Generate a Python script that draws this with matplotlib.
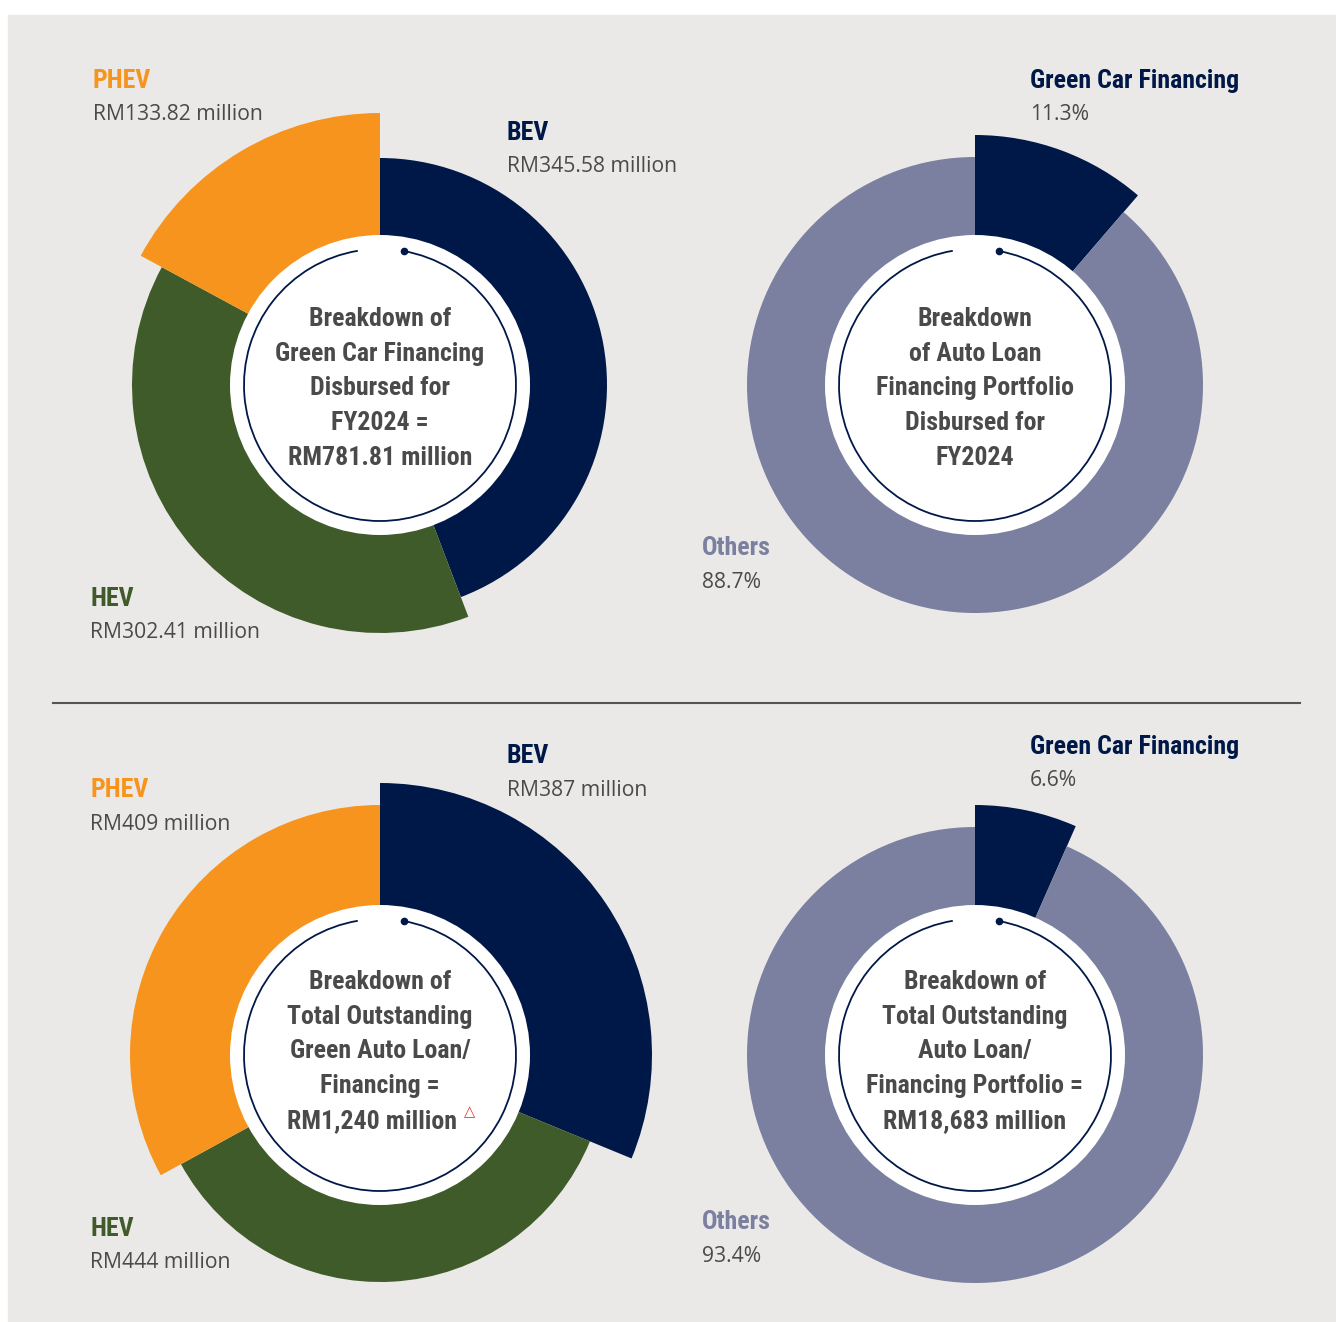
import matplotlib
matplotlib.use("Agg")
import matplotlib.pyplot as plt
from matplotlib.patches import Wedge, Circle, Arc, Rectangle

W, H = 1336, 1322

# --- data -------------------------------------------------------------
disb_labels = ["BEV", "HEV", "PHEV"]
disb_values = [345.58, 302.41, 133.82]          # RM million, FY2024 disbursed
disb_total = 781.81

out_labels = ["BEV", "HEV", "PHEV"]
out_values = [387, 444, 409]                    # RM million, outstanding
out_total = 1240

share_labels = ["Green Car Financing", "Others"]
disb_share = [11.3, 88.7]                       # % of auto loan disbursed
out_share = [6.6, 93.4]                         # % of outstanding portfolio
out_portfolio = 18683

# --- style ------------------------------------------------------------
BG = "#EBE9E7"
NAVY = "#001848"
ORANGE = "#F7941D"
GREEN = "#3F5B2A"
LAVENDER = "#7B7FA0"
TEXT = "#4A4A4A"
BOLD_FONT = ["Roboto Condensed", "Lato", "DejaVu Sans"]
REG_FONT = ["Open Sans", "DejaVu Sans"]

seg_colors = {"BEV": NAVY, "HEV": GREEN, "PHEV": ORANGE,
              "Green Car Financing": NAVY, "Others": LAVENDER}

fig = plt.figure(figsize=(W / 100, H / 100), dpi=100)
fig.patch.set_facecolor("white")
ax = fig.add_axes([0, 0, 1, 1])
ax.set_xlim(0, W)
ax.set_ylim(0, H)
ax.set_aspect("equal")
ax.axis("off")

ax.add_patch(Rectangle((8, 0), W - 8, H - 15, color=BG, zorder=0))


def Y(y):
    # screen rows measured from the top
    return H - y


def donut(cx, cy, labels, values, radii):
    total = sum(values)
    start = 90.0
    for lab, v, r in zip(labels, values, radii):
        sweep = 360.0 * v / total
        ax.add_patch(Wedge((cx, Y(cy)), r, start - sweep, start,
                           facecolor=seg_colors[lab], edgecolor="none", zorder=2))
        start -= sweep
    ax.add_patch(Circle((cx, Y(cy)), 150, facecolor="white",
                        edgecolor="none", zorder=3))
    ax.add_patch(Arc((cx, Y(cy)), 272, 272, theta1=99.4, theta2=440,
                     color=NAVY, lw=1.3, zorder=4))
    ax.plot(cx + 136 * 0.1736, Y(cy) + 136 * 0.9848, "o", color=NAVY,
            ms=4.5, zorder=5)


def centre_text(cx, y0, lines, shift_last=0):
    for i, line in enumerate(lines):
        x = cx - shift_last if i == len(lines) - 1 else cx
        ax.text(x, Y(y0 + 2 + i * 34.7), line, ha="center", va="center",
                fontsize=18.6, fontweight="bold", color=TEXT,
                family=BOLD_FONT, zorder=6)


def callout(x, y, title, value, color):
    ax.text(x, Y(y + 2), title, ha="left", va="center", fontsize=18.6,
            fontweight="bold", color=color, family=BOLD_FONT, zorder=6)
    ax.text(x, Y(y + 36), value, ha="left", va="center", fontsize=15.2,
            color=TEXT, family=REG_FONT, zorder=6)


# top-left: green car financing disbursed
donut(380, 385, disb_labels, disb_values, [227, 248, 272])
centre_text(380, 317, ["Breakdown of", "Green Car Financing", "Disbursed for",
                       "FY2024 =", f"RM{disb_total:,.2f} million"])
callout(507, 131, "BEV", f"RM{disb_values[0]:.2f} million", NAVY)
callout(90, 597, "HEV", f"RM{disb_values[1]:.2f} million", GREEN)
callout(93, 79, "PHEV", f"RM{disb_values[2]:.2f} million", ORANGE)

# top-right: share of auto loan disbursed
donut(975, 385, share_labels, disb_share, [250, 228])
centre_text(975, 317, ["Breakdown", "of Auto Loan", "Financing Portfolio",
                       "Disbursed for", "FY2024"])
callout(1030, 79, share_labels[0], f"{disb_share[0]}%", NAVY)
callout(702, 546, share_labels[1], f"{disb_share[1]}%", LAVENDER)

# divider
ax.plot([53, 1300], [Y(703), Y(703)], color="#555555", lw=1.5, zorder=1)

# bottom-left: outstanding green auto loans
donut(380, 1055, out_labels, out_values, [272, 227, 250])
centre_text(380, 980, ["Breakdown of", "Total Outstanding", "Green Auto Loan/",
                       "Financing =", f"RM{out_total:,} million"], shift_last=8)
ax.text(470, Y(1112), "\u25B3", ha="center", va="center", fontsize=10.5,
        color="#E8322B", family="DejaVu Sans", zorder=6)
callout(507, 754, "BEV", f"RM{out_values[0]} million", NAVY)
callout(90, 1227, "HEV", f"RM{out_values[1]} million", GREEN)
callout(90, 788, "PHEV", f"RM{out_values[2]} million", ORANGE)

# bottom-right: share of outstanding portfolio
donut(975, 1055, share_labels, out_share, [250, 228])
centre_text(975, 980, ["Breakdown of", "Total Outstanding", "Auto Loan/",
                       "Financing Portfolio =", f"RM{out_portfolio:,} million"])
callout(1030, 745, share_labels[0], f"{out_share[0]}%", NAVY)
callout(702, 1220, share_labels[1], f"{out_share[1]}%", LAVENDER)

fig.savefig("out.png", dpi=100, facecolor=fig.get_facecolor())
